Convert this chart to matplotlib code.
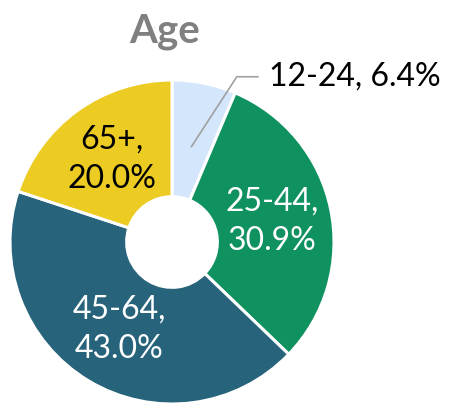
import numpy as np
import matplotlib
matplotlib.use("Agg")
import matplotlib.pyplot as plt

categories = ["12-24", "25-44", "45-64", "65+"]
values = [6.4, 30.9, 43.0, 20.0]
colors = ["#d4e6fb", "#0f9160", "#27637b", "#eccb22"]
text_colors = [None, "white", "white", "black"]

plt.rcParams['font.family'] = ['Lato', 'DejaVu Sans']

fig = plt.figure(figsize=(4.58, 4.12), dpi=100)
ax = fig.add_axes([10/458, 8/412, 324/458, 324/412])
wedges, _ = ax.pie(values, colors=colors, startangle=90, counterclock=False,
                   radius=1.0, wedgeprops=dict(width=1 - 0.28, edgecolor="white", linewidth=2.2))
ax.set_xlim(-1, 1)
ax.set_ylim(-1, 1)
ax.set_aspect("equal")
ax.axis("off")

for w, cat, val, tc in zip(wedges, categories, values, text_colors):
    mid = np.deg2rad((w.theta1 + w.theta2) / 2)
    if tc is None:
        x0, y0 = 0.6 * np.cos(mid), 0.6 * np.sin(mid)
        ax.annotate(f"{cat}, {val:.1f}%", xy=(x0, y0), xytext=(0.6, 1.02),
                    textcoords="data", fontsize=23, color="black",
                    ha="left", va="center", annotation_clip=False,
                    arrowprops=dict(arrowstyle="-", color="#a0a0a0", lw=1.2,
                                    connectionstyle="angle,angleA=0,angleB=57,rad=0",
                                    shrinkA=6, shrinkB=0))
    else:
        x, y = 0.63 * np.cos(mid), 0.63 * np.sin(mid)
        ax.text(x, y, f"{cat},\n{val:.1f}%", ha="center", va="center",
                fontsize=23, color=tc, linespacing=1.4)

fig.text(165/458, 1 - 32/412, "Age", ha="center", va="center",
         fontsize=29, fontweight="bold", color="#808080")

fig.savefig("out.png", dpi=100)
